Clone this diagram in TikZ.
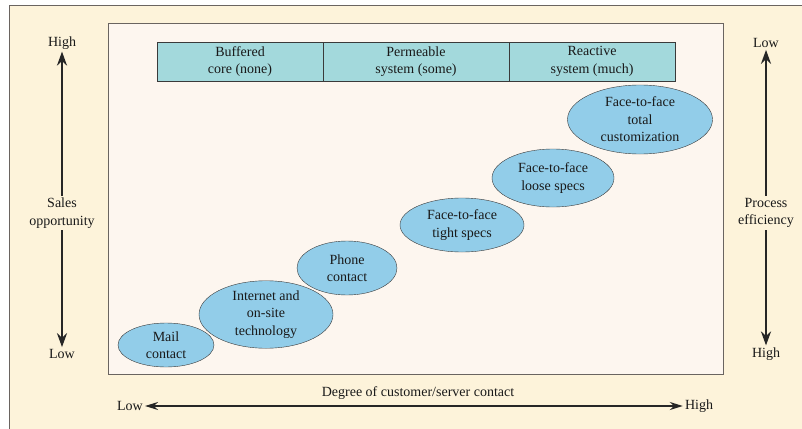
\documentclass[tikz,border=0pt]{standalone}
\usepackage{fontspec}
\setmainfont{Liberation Serif}
\usepackage{xcolor}
\usepackage{tikz}
\usetikzlibrary{arrows.meta, shapes.geometric}

\definecolor{outerbg}{HTML}{FDF3DA}
\definecolor{innerbg}{HTML}{FDF6EF}
\definecolor{barfill}{HTML}{A3D9DC}
\definecolor{ovalfill}{HTML}{92CDE9}
\definecolor{edge}{HTML}{3A3A3A}
\definecolor{frame}{HTML}{6A6460}

\tikzset{
    lbl/.style={font=\fontsize{14}{17.5}\selectfont, align=center, text=black!90, inner sep=2pt},
    barcell/.style={lbl, draw=edge, fill=barfill, minimum height=39pt, inner sep=0pt},
    oval/.style={lbl, ellipse, draw=edge, fill=ovalfill, inner sep=0pt},
    axis/.style={line width=2.6pt, draw=black!85, -{Stealth[length=14pt,width=10pt]}}
}

\begin{document}
\begin{tikzpicture}[x=1pt, y=-1pt]
        \clip (0, 0) rectangle (802, 428);
        \fill[white] (0, 0) rectangle (802, 428);

        % frames
        \filldraw[fill=outerbg, draw=frame, line width=0.8pt] (9, 5) rectangle (830, 450);
        \filldraw[fill=innerbg, draw=frame, line width=1pt] (108, 24) rectangle (723, 374);

        % top bar
        \node[barcell, minimum width=166pt] (buffered) at (240, 61.5) {Buffered\\core (none)};
        \node[barcell, minimum width=186pt] (permeable) at (416, 61.5) {Permeable\\system (some)};
        \node[barcell, minimum width=166pt] (reactive) at (592, 61.5) {Reactive\\system (much)};

        % contact modes
        \node[oval, minimum width=96pt, minimum height=44pt] (mail) at (166, 345) {Mail\\contact};
        \node[oval, minimum width=134pt, minimum height=63pt] (internet) at (266, 314.5) {Internet and\\on-site\\technology};
        \node[oval, minimum width=100pt, minimum height=54pt] (phone) at (347, 268) {Phone\\contact};
        \node[oval, minimum width=124pt, minimum height=54pt] (tight) at (462, 225) {Face-to-face\\tight specs};
        \node[oval, minimum width=122pt, minimum height=58pt] (loose) at (553, 178) {Face-to-face\\loose specs};
        \node[oval, minimum width=145pt, minimum height=69pt] (total) at (640, 119.5) {Face-to-face\\total\\customization};

        % left axis
        \node[lbl] (lhigh) at (62, 43) {High};
        \node[lbl] (sales) at (62, 213) {Sales\\opportunity};
        \node[lbl] (llow) at (62, 354) {Low};
        \draw[axis] (sales.north) -- (lhigh.south);
        \draw[axis] (sales.south) -- (llow.north);

        % right axis
        \node[lbl] (rlow) at (766, 43) {Low};
        \node[lbl] (process) at (766, 213) {Process\\efficiency};
        \node[lbl] (rhigh) at (766, 354) {High};
        \draw[axis] (process.north) -- (rlow.south);
        \draw[axis] (process.south) -- (rhigh.north);

        % bottom axis
        \node[lbl] (degree) at (418, 393) {Degree of customer/server contact};
        \node[lbl] (blow) at (130, 406) {Low};
        \node[lbl] (bhigh) at (699, 406) {High};
        \draw[axis, {Stealth[length=13pt,width=8pt]}-{Stealth[length=13pt,width=8pt]}, line width=1.8pt] (blow.east) -- (bhigh.west);
\end{tikzpicture}
\end{document}
